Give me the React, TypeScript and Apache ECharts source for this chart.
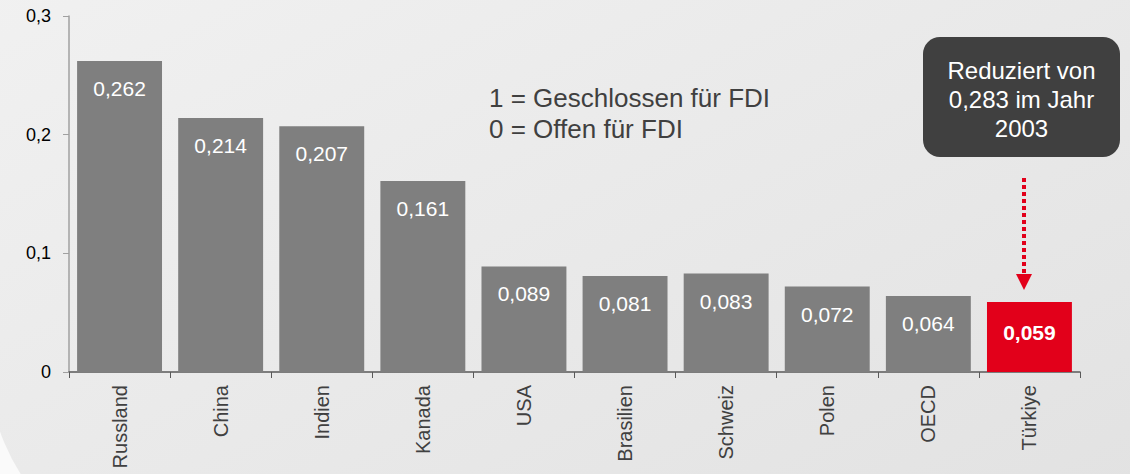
import React, { useEffect, useRef } from "react";
import * as echarts from "echarts";

const categories = ["Russland", "China", "Indien", "Kanada", "USA", "Brasilien", "Schweiz", "Polen", "OECD", "Türkiye"];
const values = [0.262, 0.214, 0.207, 0.161, 0.089, 0.081, 0.083, 0.072, 0.064, 0.059];
const highlightIndex = 9;
const noteLines = ["1 = Geschlossen für FDI", "0 = Offen für FDI"];
const boxText = "Reduziert von\n0,283 im Jahr\n2003";

const FONT = "Liberation Sans, Arial, sans-serif";
const GREY = "#7f7f7f";
const RED = "#e2001a";

export default function App() {
  const ref = useRef<HTMLDivElement>(null);
  useEffect(() => {
    if (!ref.current) return;
    const chart = echarts.init(ref.current, null, { renderer: "svg" });
    const fmt = (v: number) => String(v).replace(".", ",");
    chart.setOption({
      animation: false,
      backgroundColor: "#fafafa",
      textStyle: { fontFamily: FONT },
      grid: { left: 69, right: 50, top: 16, bottom: 102 },
      xAxis: {
        type: "category",
        data: categories,
        axisLine: { lineStyle: { color: "#595959", width: 1.5 } },
        axisTick: { show: true, length: 6, lineStyle: { color: "#595959" } },
        axisLabel: { rotate: 90, margin: 13, fontSize: 20, color: "#404040", fontFamily: FONT },
      },
      yAxis: {
        type: "value",
        min: 0,
        max: 0.3,
        interval: 0.1,
        splitLine: { show: false },
        axisLine: { show: true, lineStyle: { color: "#a0a0a0", width: 1.5 } },
        axisTick: { show: true, length: 6, lineStyle: { color: "#a0a0a0" } },
        axisLabel: { margin: 18, fontSize: 18, color: "#000", fontFamily: FONT, formatter: (v: number) => fmt(Math.round(v * 10) / 10) },
      },
      graphic: [
        {
          type: "rect",
          z: -10,
          silent: true,
          shape: { x: -11, y: -100, width: 1300, height: 666, r: [0, 0, 0, 200] },
          style: {
            fill: new echarts.graphic.LinearGradient(0, 0, 1, 1, [
              { offset: 0, color: "#f2f2f2" },
              { offset: 1, color: "#e0e0e0" },
            ]),
          },
        },
        {
          type: "text",
          x: 489,
          y: 98,
          style: { text: noteLines[0], font: `26px ${FONT}`, fill: "#404040", verticalAlign: "middle" },
        },
        {
          type: "text",
          x: 489,
          y: 129,
          style: { text: noteLines[1], font: `26px ${FONT}`, fill: "#404040", verticalAlign: "middle" },
        },
        {
          type: "rect",
          shape: { x: 923, y: 37, width: 197, height: 120, r: 17 },
          style: { fill: "#404040" },
        },
        {
          type: "text",
          x: 1021.5,
          y: 99,
          style: { text: boxText, font: `24px ${FONT}`, fill: "#ffffff", align: "center", verticalAlign: "middle", lineHeight: 29 },
        },
        {
          type: "line",
          shape: { x1: 1024, y1: 178, x2: 1024, y2: 276 },
          style: { stroke: RED, lineWidth: 4, lineDash: [4, 3] },
        },
        {
          type: "polygon",
          shape: { points: [[1016, 274], [1032, 274], [1024, 290]] },
          style: { fill: RED },
        },
      ],
      series: [
        {
          type: "bar",
          barCategoryGap: "16%",
          data: values.map((v, i) => ({
            value: v,
            itemStyle: { color: i === highlightIndex ? RED : GREY },
            label: i === highlightIndex ? { fontWeight: "bold", distance: 20 } : {},
          })),
          label: {
            show: true,
            position: "insideTop",
            distance: 17,
            fontSize: 21,
            color: "#ffffff",
            fontFamily: FONT,
            formatter: (p: any) => fmt(p.value),
          },
        },
      ],
    });
    return () => chart.dispose();
  }, []);
  return <div ref={ref} style={{ position: "fixed", left: 0, top: 0, width: 1130, height: 474 }} />;
}
